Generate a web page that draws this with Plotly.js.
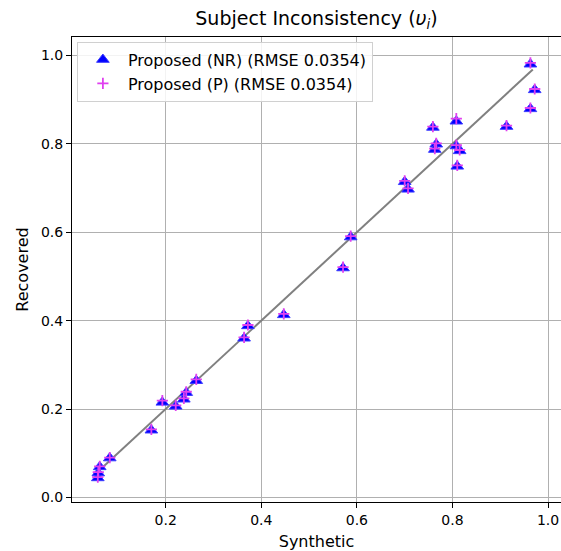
<!DOCTYPE html>
<html>
<head>
<meta charset="utf-8">
<script src="https://cdn.plot.ly/plotly-3.0.1.min.js"></script>
<style>html,body{margin:0;padding:0;background:#fff;}#chart{width:561px;height:551px;}</style>
</head>
<body>
<div id="chart"></div>
<script>
// Synthetic (true) subject inconsistency values
const synthetic = [0.058, 0.059, 0.062, 0.083, 0.170, 0.193, 0.221, 0.238, 0.243, 0.264,
                   0.364, 0.372, 0.447, 0.571, 0.587, 0.700, 0.707, 0.759, 0.766, 0.763,
                   0.808, 0.808, 0.815, 0.810, 0.913, 0.963, 0.972, 0.963];
// Recovered values, Proposed (NR)
const recoveredNR = [0.044, 0.055, 0.069, 0.089, 0.152, 0.215, 0.206, 0.222, 0.237, 0.264,
                     0.360, 0.388, 0.413, 0.519, 0.589, 0.714, 0.697, 0.837, 0.799, 0.787,
                     0.851, 0.795, 0.784, 0.749, 0.839, 0.879, 0.922, 0.980];
// Recovered values, Proposed (P)
const recoveredP = [0.046, 0.057, 0.070, 0.090, 0.154, 0.219, 0.208, 0.224, 0.239, 0.267,
                    0.362, 0.390, 0.415, 0.521, 0.591, 0.716, 0.699, 0.839, 0.801, 0.789,
                    0.857, 0.797, 0.786, 0.751, 0.841, 0.881, 0.924, 0.983];
const legendNames = ["Proposed (NR) (RMSE 0.0354)", "Proposed (P) (RMSE 0.0354)"];
const identityLine = [0.058, 0.968];
const tickVals = [0.0, 0.2, 0.4, 0.6, 0.8, 1.0];
const tickText = ["0.0", "0.2", "0.4", "0.6", "0.8", "1.0"];

const font = "DejaVu Sans, Liberation Sans, sans-serif";

const traces = [
  {
    x: identityLine, y: identityLine, mode: "lines", showlegend: false,
    line: {color: "#808080", width: 2}, hoverinfo: "skip"
  },
  {
    x: synthetic, y: recoveredNR, mode: "markers", name: legendNames[0],
    marker: {symbol: "triangle-up", size: 11, color: "#0000ff",
             line: {color: "#3a3aff", width: 1}}
  },
  {
    x: synthetic, y: recoveredP, mode: "markers", name: legendNames[1],
    marker: {symbol: "cross-thin", size: 8, color: "#e040f0",
             line: {color: "#e040f0", width: 1.8}}
  }
];

const layout = {
  width: 561, height: 551,
  margin: {l: 72, r: 0, t: 37, b: 49},
  paper_bgcolor: "#ffffff", plot_bgcolor: "#ffffff",
  font: {family: font, size: 14, color: "#000000"},
  title: {text: "Subject Inconsistency (<i>υ</i><sub><i>i</i></sub>)",
          font: {family: font, size: 19, color: "#000000"},
          x: 0.5, xref: "paper", xanchor: "center", y: 1, yref: "container", yanchor: "top", pad: {t: 12}},
  xaxis: {
    range: [0.004, 1.027], tickvals: tickVals, ticktext: tickText,
    showgrid: true, gridcolor: "#b0b0b0", gridwidth: 1,
    showline: true, linecolor: "#000000", linewidth: 1, mirror: true,
    ticks: "outside", ticklen: 5, tickcolor: "#000000", zeroline: false,
    tickfont: {family: font, size: 14, color: "#000000"},
    title: {text: "Synthetic", font: {family: font, size: 16, color: "#000000"}, standoff: 9}
  },
  yaxis: {
    range: [-0.0104, 1.0416], tickvals: tickVals, ticktext: tickText,
    showgrid: true, gridcolor: "#b0b0b0", gridwidth: 1,
    showline: true, linecolor: "#000000", linewidth: 1, mirror: false,
    ticks: "outside", ticklen: 5, tickcolor: "#000000", zeroline: false,
    tickfont: {family: font, size: 14, color: "#000000"},
    title: {text: "Recovered", font: {family: font, size: 16, color: "#000000"}, standoff: 8}
  },
  legend: {
    x: 0.01, y: 0.99, xanchor: "left", yanchor: "top",
    bgcolor: "rgba(255,255,255,0.85)", bordercolor: "#d0d0d0", borderwidth: 1,
    font: {family: font, size: 16, color: "#000000"}, itemwidth: 40
  },
  showlegend: true
};

Plotly.newPlot("chart", traces, layout, {displayModeBar: false, staticPlot: true});
</script>
</body>
</html>
